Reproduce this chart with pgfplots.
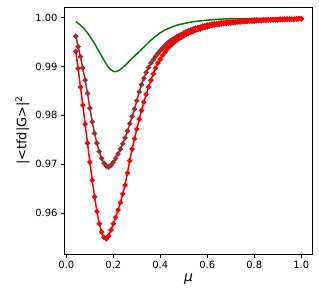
\documentclass[border=0pt]{standalone}
\usepackage{fontspec}
\setmainfont{DejaVu Sans}
\usepackage{pgfplots}
\pgfplotsset{compat=1.18}
\definecolor{mplgreen}{RGB}{0,128,0}
\definecolor{mplbrown}{RGB}{165,42,42}
\definecolor{mplred}{RGB}{255,0,0}
\begin{document}
\begin{tikzpicture}
\path[use as bounding box] (-64.5bp,-46bp) rectangle (254.5bp,254bp);
\begin{axis}[
  at={(0,0)}, anchor=south west,
  scale only axis, width=248bp, height=247bp,
  xmin=-0.008, xmax=1.048, ymin=0.9516, ymax=1.0022,
  xtick={0,0.2,0.4,0.6,0.8,1.0},
  ytick={0.96,0.97,0.98,0.99,1.00},
  scaled y ticks=false, scaled x ticks=false,
  xticklabel style={/pgf/number format/.cd,fixed,fixed zerofill,precision=1,assume math mode=true},
  yticklabel style={/pgf/number format/.cd,fixed,fixed zerofill,precision=2,assume math mode=true},
  tick label style={font=\fontsize{10}{12}\selectfont},
  tick align=outside, major tick length=3.5bp,
  tick style={black, line width=0.8bp},
  axis line style={black, line width=0.8bp},
  xtick pos=bottom, ytick pos=left,
  xlabel={\fontsize{14}{16}\selectfont\textit{μ}},
  ylabel={\fontsize{13}{15}\selectfont |<tfd|G>|\textsuperscript{2}},
  xlabel style={yshift=2bp},
  ylabel style={yshift=-1bp},
]
\addplot[mplgreen, line width=1.5bp, smooth, no marks] table {
0.04 0.9992
0.06 0.9985
0.08 0.9975
0.10 0.9962
0.12 0.9947
0.14 0.9930
0.16 0.9913
0.18 0.9898
0.20 0.9890
0.22 0.9891
0.24 0.9898
0.26 0.9907
0.28 0.9917
0.30 0.9926
0.32 0.9935
0.34 0.9945
0.36 0.9954
0.38 0.9962
0.40 0.9969
0.42 0.9975
0.44 0.9979
0.46 0.9983
0.48 0.9986
0.50 0.9988
0.53 0.9991
0.56 0.9993
0.60 0.9995
0.65 0.9997
0.70 0.9998
0.80 0.99985
0.90 0.9999
1.00 0.99995
};
\addplot[mplbrown, line width=1.5bp, mark=*, mark size=1.8bp, mark options={solid}] table {
0.04 0.9962
0.05 0.9941
0.06 0.9920
0.07 0.9897
0.08 0.9872
0.09 0.9845
0.10 0.9815
0.11 0.9787
0.12 0.9763
0.13 0.9743
0.14 0.9726
0.15 0.9712
0.16 0.9702
0.17 0.9696
0.18 0.9694
0.19 0.9698
0.20 0.9704
0.21 0.9712
0.22 0.9721
0.23 0.9731
0.24 0.9742
0.25 0.9754
0.26 0.9768
0.27 0.9783
0.28 0.9798
0.29 0.9813
0.30 0.9830
0.31 0.9848
0.32 0.9863
0.33 0.9876
0.34 0.9888
0.35 0.9898
0.36 0.9907
0.37 0.9914
0.38 0.9921
0.39 0.9927
0.40 0.9933
0.41 0.9938
0.42 0.9943
0.43 0.9948
0.44 0.9952
0.45 0.9955
0.46 0.9958
0.47 0.9961
0.48 0.9964
0.49 0.9966
0.50 0.9969
0.51 0.9971
0.52 0.9973
0.53 0.9975
0.54 0.9977
0.55 0.9979
0.56 0.9980
0.57 0.9981
0.58 0.9983
0.59 0.9984
0.60 0.9985
0.61 0.9986
0.62 0.9987
0.63 0.9988
0.64 0.9988
0.65 0.9989
0.66 0.9990
0.67 0.9990
0.68 0.9991
0.69 0.9991
0.70 0.9992
0.71 0.9992
0.72 0.9992
0.73 0.9993
0.74 0.9993
0.75 0.9993
0.76 0.9994
0.77 0.9994
0.78 0.9994
0.79 0.9994
0.80 0.9995
0.81 0.9995
0.82 0.9995
0.83 0.9995
0.84 0.9995
0.85 0.9996
0.86 0.9996
0.87 0.9996
0.88 0.9996
0.89 0.9996
0.90 0.9996
0.91 0.9997
0.92 0.9997
0.93 0.9997
0.94 0.9997
0.95 0.9997
0.96 0.9997
0.97 0.9997
0.98 0.9998
0.99 0.9998
1.00 0.9998
};
\addplot[mplred, line width=1.5bp, mark=*, mark size=1.8bp, mark options={solid}] table {
0.04 0.9931
0.05 0.9896
0.06 0.9858
0.07 0.9821
0.08 0.9782
0.09 0.9743
0.10 0.9704
0.11 0.9667
0.12 0.9633
0.13 0.9603
0.14 0.9578
0.15 0.9561
0.16 0.9550
0.17 0.9547
0.18 0.9553
0.19 0.9565
0.20 0.9578
0.21 0.9591
0.22 0.9606
0.23 0.9621
0.24 0.9639
0.25 0.9657
0.26 0.9682
0.27 0.9707
0.28 0.9731
0.29 0.9752
0.30 0.9772
0.31 0.9792
0.32 0.9810
0.33 0.9827
0.34 0.9843
0.35 0.9858
0.36 0.9872
0.37 0.9885
0.38 0.9897
0.39 0.9907
0.40 0.9915
0.41 0.9923
0.42 0.9930
0.43 0.9936
0.44 0.9941
0.45 0.9946
0.46 0.9950
0.47 0.9954
0.48 0.9957
0.49 0.9960
0.50 0.9963
0.51 0.9966
0.52 0.9968
0.53 0.9970
0.54 0.9972
0.55 0.9974
0.56 0.9976
0.57 0.9977
0.58 0.9979
0.59 0.9980
0.60 0.9981
0.61 0.9983
0.62 0.9984
0.63 0.9985
0.64 0.9986
0.65 0.9986
0.66 0.9987
0.67 0.9988
0.68 0.9988
0.69 0.9989
0.70 0.9989
0.71 0.9990
0.72 0.9990
0.73 0.9991
0.74 0.9991
0.75 0.9992
0.76 0.9992
0.77 0.9992
0.78 0.9993
0.79 0.9993
0.80 0.9993
0.81 0.9994
0.82 0.9994
0.83 0.9994
0.84 0.9995
0.85 0.9995
0.86 0.9995
0.87 0.9995
0.88 0.9996
0.89 0.9996
0.90 0.9996
0.91 0.9996
0.92 0.9996
0.93 0.9997
0.94 0.9997
0.95 0.9997
0.96 0.9997
0.97 0.9997
0.98 0.9997
0.99 0.9998
1.00 0.9998
};
\end{axis}
\end{tikzpicture}
\end{document}
